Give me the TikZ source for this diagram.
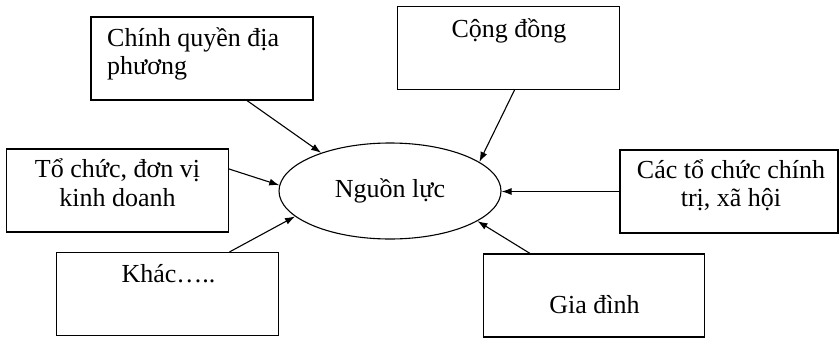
\documentclass[tikz,border=0pt]{standalone}
\usepackage{fontspec}
\setmainfont{Liberation Serif}
\usetikzlibrary{arrows.meta,shapes.geometric}
\begin{document}
\begin{tikzpicture}[x=1pt,y=-1pt,
  box/.style={draw,line width=1.1pt,rectangle,inner sep=0pt},
  lbl/.style={inner sep=0pt,font=\fontsize{26}{28.5}\selectfont},
  arr/.style={line width=1.1pt,-{Latex[length=10pt,width=7pt]}}]
\useasboundingbox (0,0) rectangle (840,340);
% boxes
\node[box,minimum width=222pt,minimum height=83pt] (b1) at (202,58.5) {};
\node[box,minimum width=222pt,minimum height=83pt] (b2) at (508.5,48) {};
\node[box,minimum width=222pt,minimum height=83pt] (b3) at (117.5,190.5) {};
\node[box,minimum width=222pt,minimum height=83pt] (b4) at (167.5,294) {};
\node[box,minimum width=218pt,minimum height=83pt] (b5) at (729,191.5) {};
\node[box,minimum width=221pt,minimum height=83pt] (b6) at (594,295.5) {};
% ellipse
\node[draw,ellipse,line width=1.1pt,minimum width=222pt,minimum height=96pt,inner sep=0pt,
      font=\fontsize{26}{28.5}\selectfont] (e) at (390,191) {Nguồn lực};
% texts
\node[lbl,anchor=west,align=left] (t1) at (107,54) {Chính quyền địa\\phương};
\node[lbl,anchor=base] (t2) at (509,37) {Cộng đồng};
\node[lbl,anchor=center,align=center] (t3) at (117.5,182.5) {Tổ chức, đơn vị\\kinh doanh};
\node[lbl,anchor=base] (t4) at (168.5,282) {Khác…..};
\node[lbl,anchor=center,align=center] (t5) at (731,185) {Các tổ chức chính\\trị, xã hội};
\node[lbl,anchor=base] (t6) at (594.5,313) {Gia đình};
% connectors
\draw[arr] ([xshift=45pt]b1.south) -- (e.151);
\draw[arr] ([xshift=6pt]b2.south) -- (e.18);
\draw[arr] ([yshift=21.5pt]b3.east) -- (e.177);
\draw[arr] ([xshift=62pt]b4.north) -- (e.195);
\draw[arr] (b5.west) -- (b5.west -| e.east);
\draw[arr] ([xshift=-64pt]b6.north) -- (e.341);
\end{tikzpicture}
\end{document}
